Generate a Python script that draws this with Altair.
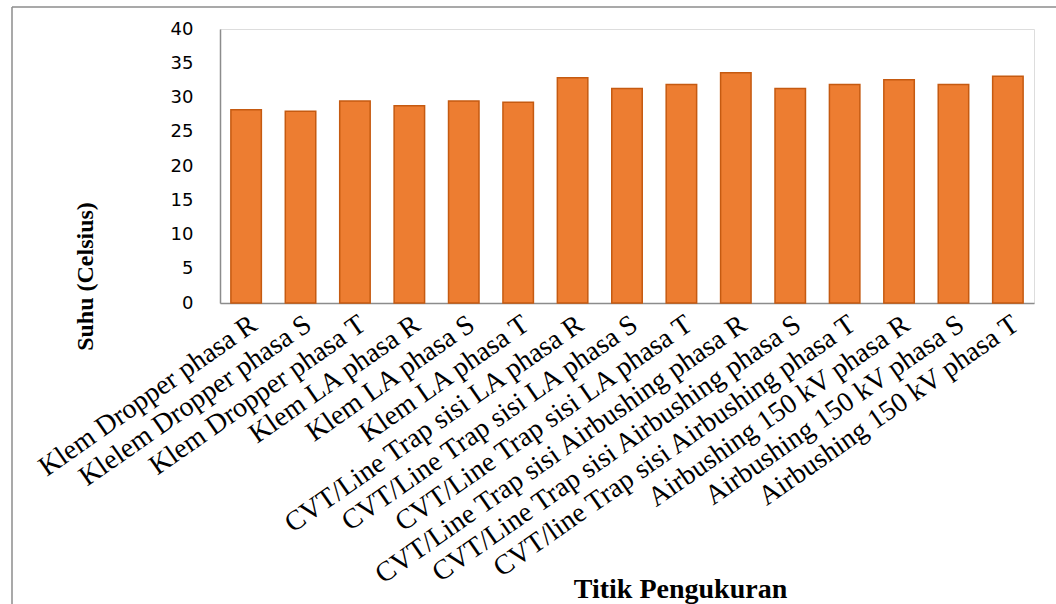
import altair as alt
import pandas as pd

# Measurement points and their temperatures (°C)
titik = [
    "Klem Dropper phasa R",
    "Klelem Dropper phasa S",
    "Klem Dropper phasa T",
    "Klem LA phasa R",
    "Klem LA phasa S",
    "Klem LA phasa T",
    "CVT/Line Trap sisi LA phasa R",
    "CVT/Line Trap sisi LA phasa S",
    "CVT/Line Trap sisi LA phasa T",
    "CVT/Line Trap sisi Airbushing phasa R",
    "CVT/Line Trap sisi Airbushing phasa S",
    "CVT/line Trap sisi Airbushing phasa T",
    "Airbushing 150 kV phasa R",
    "Airbushing 150 kV phasa S",
    "Airbushing 150 kV phasa T",
]
suhu = [28.2, 28.0, 29.5, 28.8, 29.5, 29.3, 32.9, 31.3, 31.9, 33.6, 31.3, 31.9, 32.6, 31.9, 33.1]
y_ticks = [0, 5, 10, 15, 20, 25, 30, 35, 40]

df = pd.DataFrame({"titik": titik, "suhu": suhu})

PLOT_W, PLOT_H = 814, 274
PAD_L, PAD_T = 220, 29

bars = alt.Chart(df).mark_bar(
    color="#ED7D31", stroke="#C55A11", strokeWidth=1.5
).encode(
    x=alt.X(
        "titik:N",
        sort=titik,
        scale=alt.Scale(paddingInner=0.44, paddingOuter=0.2),
        axis=alt.Axis(
            title="Titik Pengukuran",
            labelAngle=-35,
            labelFont="Liberation Serif",
            labelFontSize=28,
            labelColor="#000000",
            labelPadding=7,
            labelLimit=0,
            labelOverlap=False,
            ticks=False,
            domainColor="#8C8C8C",
            domainWidth=1.5,
            titleFont="Liberation Serif",
            titleFontSize=28,
            titleFontWeight="bold",
            titleColor="#000000",
            titleX=460,
            titleY=272,
            titleAlign="center",
            titleBaseline="top",
        ),
    ),
    y=alt.Y(
        "suhu:Q",
        scale=alt.Scale(domain=[0, 40], nice=False),
        axis=alt.Axis(
            title="Suhu (Celsius)",
            values=y_ticks,
            grid=False,
            ticks=False,
            tickSize=0,
            labelFont="DejaVu Sans",
            labelFontSize=18,
            labelColor="#000000",
            labelPadding=27,
            domainColor="#8C8C8C",
            domainWidth=1.5,
            titleFont="Liberation Serif",
            titleFontSize=24,
            titleFontWeight="bold",
            titleColor="#000000",
            titleX=-135,
            titleY=247,
            titleAlign="center",
            titleBaseline="middle",
            titleAngle=270,
        ),
    ),
)

# Outer frame lines (top and left edges of the figure box)
frame_src = pd.DataFrame({"k": [0]})
frame_top = alt.Chart(frame_src).mark_rule(color="#8C8C8C", strokeWidth=1.5).encode(
    x=alt.value(-208), x2=alt.value(1056 - PAD_L), y=alt.value(-22)
)
frame_left = alt.Chart(frame_src).mark_rule(color="#8C8C8C", strokeWidth=1.5).encode(
    x=alt.value(-208), y=alt.value(-22), y2=alt.value(604 - PAD_T)
)

chart = alt.layer(bars, frame_top, frame_left).properties(
    width=PLOT_W,
    height=PLOT_H,
    autosize=alt.AutoSizeParams(type="none"),
    padding={"left": PAD_L, "top": PAD_T, "right": 1056 - PAD_L - PLOT_W, "bottom": 604 - PAD_T - PLOT_H},
).configure_view(stroke=None).configure(background="white")

chart.save("out.html", embed_options={"renderer": "svg", "actions": False})
